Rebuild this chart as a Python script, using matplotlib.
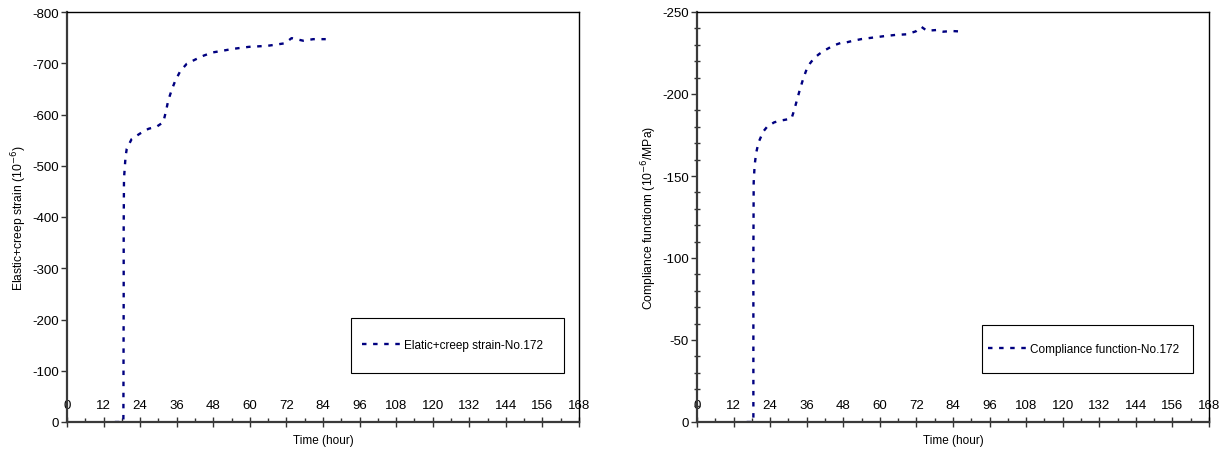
import matplotlib
matplotlib.use("Agg")
import matplotlib.pyplot as plt
from matplotlib.ticker import MultipleLocator
from matplotlib.patches import Rectangle

plt.rcParams['font.family'] = ['Liberation Sans', 'DejaVu Sans']
plt.rcParams['axes.unicode_minus'] = False

# Elastic + creep strain, specimen No.172
strain_time = [15.7, 18.5, 18.6, 18.6, 18.7, 19.2, 19.6, 21.2, 24.0, 26.7, 29.6, 31.6,
               32.5, 33.2, 34.3, 35.4, 37.1, 39.3, 42.0, 44.9, 47.7, 50.7, 54.4, 57.0,
               59.7, 62.8, 65.7, 68.2, 71.5, 73.7, 77.5, 80.8, 84.9]
strain_vals = [0, 0, -250, -380, -475, -517, -533, -552, -563, -572, -577, -585,
               -607, -627, -647, -664, -684, -699, -707, -715, -721, -724, -728, -730,
               -732, -733, -734, -736, -739, -749, -744, -747, -747]

# Compliance function, specimen No.172
comp_time = [16.3, 18.5, 18.5, 18.6, 18.9, 19.4, 20.2, 21.7, 23.0, 25.3, 27.2, 31.0,
             31.9, 32.9, 33.8, 34.9, 36.0, 37.1, 38.4, 40.1, 41.7, 44.7, 47.1, 49.1,
             51.3, 54.0, 57.3, 61.1, 65.0, 68.8, 71.8, 73.6, 75.4, 78.6, 80.8, 83.6,
             85.7, 87.4]
comp_vals = [0, 0, -100, -146, -156.3, -164, -170.5, -177, -180, -182.7, -183.7, -185,
             -190.2, -197, -203, -209.6, -215.2, -218.7, -221.8, -224.4, -226.4, -229.5,
             -231.1, -231.5, -232.5, -233.5, -234.3, -235.2, -236, -236.4, -238.2, -241,
             -238.6, -239, -238, -238.4, -238.2, -238.8]

x_ticks = list(range(0, 169, 12))

LINE_COLOR = '#000080'
DASHES = (1.9, 2.8)

fig = plt.figure(figsize=(12.27, 4.52), dpi=100)
ax1 = fig.add_axes([67 / 1227, 29 / 452, 512 / 1227, 410 / 452])
ax2 = fig.add_axes([697 / 1227, 29 / 452, 512 / 1227, 410 / 452])


def style_axes(ax, ymin, ymajor, yminor, ylabel):
    ax.set_xlim(0, 168)
    ax.set_ylim(0, ymin)
    ax.set_xticks(x_ticks)
    ax.set_xticklabels([str(t) for t in x_ticks])
    ax.xaxis.set_minor_locator(MultipleLocator(6))
    ax.yaxis.set_major_locator(MultipleLocator(ymajor))
    if yminor:
        ax.yaxis.set_minor_locator(MultipleLocator(yminor))
        ax.tick_params(axis='y', which='minor', direction='inout', length=4,
                       width=1, color='#333333')
    ax.tick_params(axis='x', which='major', direction='inout', length=7, width=1,
                   color='#333333', labelsize=9.5, pad=-20)
    ax.tick_params(axis='x', which='minor', direction='in', length=3, width=1,
                   color='#333333')
    ax.tick_params(axis='y', which='major', direction='out', length=4, width=1,
                   color='#333333', labelsize=9.5, pad=2)
    for side in ('left', 'bottom'):
        ax.spines[side].set_linewidth(1.6)
        ax.spines[side].set_color('#3a3a3a')
    for side in ('top', 'right'):
        ax.spines[side].set_linewidth(1.0)
        ax.spines[side].set_color('black')
    ax.set_xlabel('Time (hour)', fontsize=8.5)
    ax.xaxis.set_label_coords(0.5, -0.030)
    ax.set_ylabel(ylabel, fontsize=8.7)
    ax.yaxis.set_label_coords(-0.075, 0.5)


style_axes(ax1, -800, 100, None, 'Elastic+creep strain (10$^{-6}$)')
style_axes(ax2, -250, 50, 10, 'Compliance functionn (10$^{-6}$/MPa)')

ax1.plot(strain_time, strain_vals, color=LINE_COLOR, lw=1.7, dashes=DASHES,
         label='Elatic+creep strain-No.172')
ax2.plot(comp_time, comp_vals, color=LINE_COLOR, lw=1.7, dashes=DASHES,
         label='Compliance function-No.172')

# legend frames
ax1.add_patch(Rectangle((0.554, 0.1195), 0.417, 0.134, transform=ax1.transAxes,
                        fill=False, edgecolor='black', lw=0.8, clip_on=False, zorder=5))
ax2.add_patch(Rectangle((0.556, 0.12), 0.413, 0.117, transform=ax2.transAxes,
                        fill=False, edgecolor='black', lw=0.8, clip_on=False, zorder=5))

ax1.legend(loc='center left', bbox_to_anchor=((362 - 67) / 512, 0.188), frameon=False,
           fontsize=8.5, borderpad=0, borderaxespad=0, handlelength=3.25,
           handletextpad=0.35)
ax2.legend(loc='center left', bbox_to_anchor=((988 - 697) / 512, 0.178), frameon=False,
           fontsize=8.5, borderpad=0, borderaxespad=0, handlelength=3.25,
           handletextpad=0.35)

fig.savefig('out.png', dpi=100)
